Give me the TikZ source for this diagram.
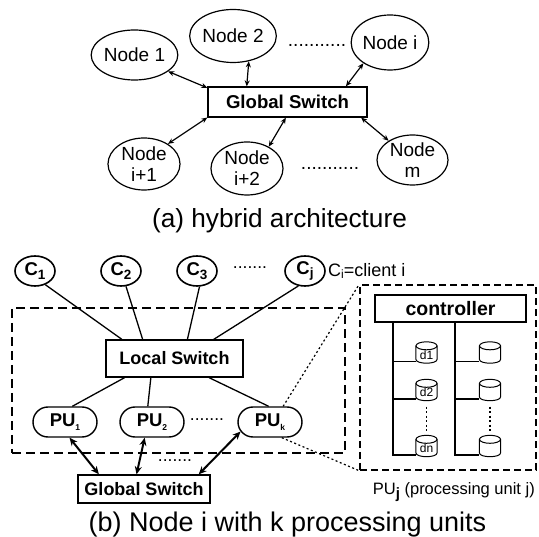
\documentclass[tikz,border=0pt]{standalone}
\usepackage{fontspec}
\setmainfont{Liberation Sans}
\usetikzlibrary{shapes.geometric,shapes.misc,arrows.meta,calc}
\newcommand\mysubc[1]{\raisebox{-3.5pt}{\fontsize{13.5}{14}\selectfont\bfseries #1}}
\newcommand\mysubpu[1]{\raisebox{-4pt}{\fontsize{8.5}{8.5}\selectfont\bfseries #1}}
\newcommand\drawdisk[1]{%
  \draw[line width=1pt] ([yshift=-4pt]#1.north west) -- ([yshift=4pt]#1.south west)
    .. controls ([yshift=-1.33pt]#1.south west) and ([yshift=-1.33pt]#1.south east) ..
    ([yshift=4pt]#1.south east) -- ([yshift=-4pt]#1.north east);
  \draw[line width=1pt] ([yshift=-4pt]#1.north) ellipse [x radius=10.5pt, y radius=4pt];}
\begin{document}
\begin{tikzpicture}[x=1pt,y=-1pt,
  ell/.style={ellipse, draw, line width=1.2pt, inner sep=0pt, align=center,
    font=\fontsize{19}{21}\selectfont},
  gbox/.style={rectangle, draw, line width=1.3pt, inner sep=0pt,
    font=\fontsize{18.6}{20}\selectfont\bfseries},
  txt/.style={inner sep=0pt, font=\fontsize{17.5}{20}\selectfont},
  captxt/.style={inner sep=0pt, font=\fontsize{26.2}{30}\selectfont},
  arra/.style={line width=1.2pt, {Stealth[length=6pt,width=5pt]}-{Stealth[length=6pt,width=5pt]}},
  arrb/.style={line width=2pt, {Stealth[length=8pt,width=7pt]}-{Stealth[length=8pt,width=7pt]}},
  cl/.style={ellipse, draw, line width=1.6pt, inner sep=0pt, minimum width=40pt,
    minimum height=30pt, font=\fontsize{18.5}{20}\selectfont\bfseries},
  pu/.style={rounded rectangle, draw, line width=1.4pt, inner sep=0pt, minimum width=64pt,
    minimum height=30pt, font=\fontsize{18.5}{20}\selectfont\bfseries},
  conn/.style={line width=1.3pt},
  dbox/.style={draw, line width=1.5pt, dash pattern=on 9pt off 5pt, inner sep=0pt},
  dotl/.style={line width=1.2pt, dash pattern=on 2pt off 2.5pt},
  disk/.style={inner sep=0pt, minimum width=21pt, minimum height=21pt},
  dlab/.style={inner sep=0pt, font=\fontsize{12}{12}\selectfont},
]
\useasboundingbox (0,0) rectangle (539,537);

% ---------- (a) ----------
\node[ell, minimum width=75pt, minimum height=50pt] (n1) at (134.5,55) {Node 1};
\node[ell, minimum width=70pt, minimum height=53pt] (n2) at (233,36) {Node 2};
\node[ell, minimum width=75pt, minimum height=55pt] (ni) at (390,42.5) {Node i};
\node[txt, font=\fontsize{19}{20}\selectfont] (dots1) at (317,45) {...........};
\node[gbox, minimum width=159pt, minimum height=30pt] (gs) at (287.5,102) {Global Switch};
\node[ell, minimum width=72pt, minimum height=52pt] (ni1) at (144,164) {Node\\i+1};
\node[ell, minimum width=72pt, minimum height=53pt] (ni2) at (247,168.5) {Node\\i+2};
\node[ell, minimum width=71pt, minimum height=50pt] (nm) at (412.5,160) {Node\\m};
\node[txt, font=\fontsize{19}{20}\selectfont] (dots2) at (330,168) {...........};
\node[captxt] (capa) at (279.5,221) {(a) hybrid architecture};

\draw[arra] (n1.-26) -- (gs.170);
\draw[arra] (n2.-58) -- (gs.159.2);
\draw[arra] (ni.218.5) -- (gs.15.4);
\draw[arra] (ni1.40.6) -- (gs.191);
\draw[arra] (ni2.45.6) -- (gs.264);
\draw[arra] (nm.141) -- (gs.-12.2);

% ---------- (b) ----------
\node[cl] (c1) at (35,271) {C\mysubc{1}};
\node[cl] (c2) at (121,271) {C\mysubc{2}};
\node[cl] (c3) at (197,271) {C\mysubc{3}};
\node[cl] (cj) at (305,271) {C\mysubc{j}};
\node[txt] (cdots) at (250,268) {.......};
\node[txt, anchor=west, font=\fontsize{18}{20}\selectfont] (cnote) at (328,271) {C\raisebox{-2.5pt}{\fontsize{12}{12}\selectfont i}=client i};

\node[dbox, minimum width=333pt, minimum height=145pt] (nodebox) at (178.5,380.5) {};
\node[gbox, minimum width=137pt, minimum height=37pt, font=\fontsize{18}{20}\selectfont\bfseries] (ls) at (174.5,358.5) {Local Switch};

\node[pu] (pu1) at (65,422) {PU\mysubpu{1}};
\node[pu] (pu2) at (152,422) {PU\mysubpu{2}};
\node[pu] (puk) at (270,422) {PU\mysubpu{k}};
\node[txt] (pudots) at (207,420) {.......};

\node[gbox, minimum width=132pt, minimum height=28pt, font=\fontsize{18}{20}\selectfont\bfseries] (gs2) at (144,489) {Global Switch};
\node[txt] (gdots) at (175,461) {.......};

\draw[conn] (c1.-53) -- (ls.160);
\draw[conn] (c2.-72) -- (ls.149.6);
\draw[conn] (c3.-81) -- (ls.56);
\draw[conn] (cj.246) -- (ls.26);
\draw[conn] (ls.201) -- (pu1.65);
\draw[conn] (ls.219) -- (pu2.105);
\draw[conn] (ls.-29) -- (puk.95);

\draw[arrb] (pu1.-74) -- (gs2.162.6);
\draw[arrb] (pu2.245) -- (gs2.117);
\draw[arrb] (puk.198) -- (gs2.15);

% ---------- processing unit detail ----------
\node[dbox, dash pattern=on 7pt off 4pt, minimum width=176pt, minimum height=185pt] (pubox) at (448,377.5) {};
\draw[dotl] (puk.50) -- (pubox.north west);
\draw[dotl] (puk.-53) -- (pubox.south west);

\node[gbox, minimum width=151pt, minimum height=27pt, font=\fontsize{19.5}{20}\selectfont\bfseries] (ctrl) at (450.5,308.5) {controller};

\node[disk] (dl1) at (426.5,352.5) {};
\node[disk] (dl2) at (426.5,390) {};
\node[disk] (dln) at (426.5,446) {};
\node[disk] (dr1) at (490,352.5) {};
\node[disk] (dr2) at (490,390) {};
\node[disk] (drn) at (490,446) {};
\drawdisk{dl1}\drawdisk{dl2}\drawdisk{dln}
\drawdisk{dr1}\drawdisk{dr2}\drawdisk{drn}
\node[dlab] (tl1) at ([yshift=-2.5pt]dl1.center) {d1};
\node[dlab] (tl2) at ([yshift=-2.5pt]dl2.center) {d2};
\node[dlab] (tln) at ([yshift=-2.5pt]dln.center) {dn};

\coordinate (va) at (393,322);
\coordinate (vb) at (455,322);
\coordinate (bl1) at ([yshift=-9pt]dl1.west);
\coordinate (bl2) at ([yshift=-9pt]dl2.west);
\coordinate (bln) at ([yshift=-9pt]dln.west);
\coordinate (br1) at ([yshift=-9pt]dr1.west);
\coordinate (br2) at ([yshift=-9pt]dr2.west);
\coordinate (brn) at ([yshift=-9pt]drn.west);
\draw[conn] (va) |- (bln);
\draw[conn] (va |- bl1) -- (bl1);
\draw[conn] (va |- bl2) -- (bl2);
\draw[conn] (vb) |- (brn);
\draw[conn] (vb |- br1) -- (br1);
\draw[conn] (vb |- br2) -- (br2);
\draw[dotl] ([yshift=-6pt]dl2.south) -- ([yshift=3pt]dln.north);
\draw[dotl] ([yshift=-6pt]dr2.south) -- ([yshift=3pt]drn.north);

\node[txt, anchor=east, font=\fontsize{16.5}{20}\selectfont] (punote) at (535,492) {PU\raisebox{-4pt}{\fontsize{15}{15}\selectfont\bfseries j} (processing unit j)};
\node[captxt, font=\fontsize{27}{30}\selectfont] (capb) at (287.5,525) {(b) Node i with k processing units};
\end{tikzpicture}
\end{document}
